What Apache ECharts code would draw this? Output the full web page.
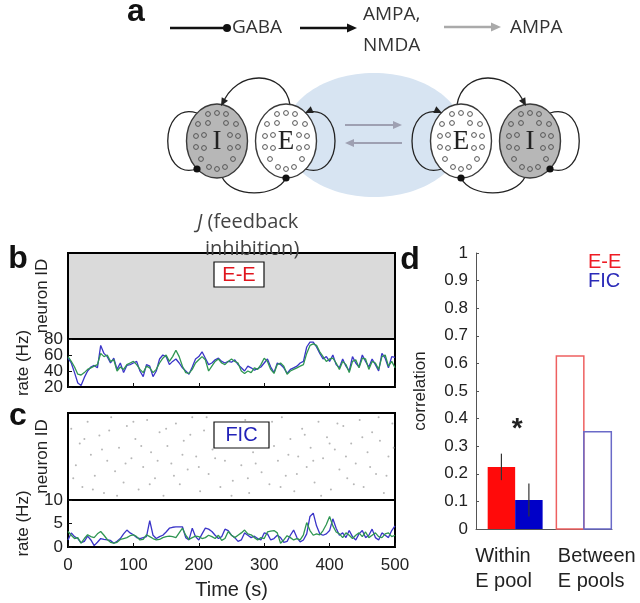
<!DOCTYPE html>
<html><head><meta charset="utf-8">
<script src="https://cdn.jsdelivr.net/npm/echarts@6/dist/echarts.min.js"></script>
<style>html,body{margin:0;padding:0;background:#fff}#c{width:640px;height:603px}</style>
</head><body><div id="c"></div><script>
// ---------------- data ----------------
const timeS = [0,5,10,15,20,25,30,35,40,45,50,55,60,65,70,75,80,85,90,95,100,105,110,115,120,125,130,135,140,145,150,155,160,165,170,175,180,185,190,195,200,205,210,215,220,225,230,235,240,245,250,255,260,265,270,275,280,285,290,295,300,305,310,315,320,325,330,335,340,345,350,355,360,365,370,375,380,385,390,395,400,405,410,415,420,425,430,435,440,445,450,455,460,465,470,475,480,485,490,495,500];
const timeTicks = [0,100,200,300,400,500];

// panel b : E-E rates (Hz)
const rateEEBlue = [56,50,38,25,22,32,40,45,47,44, 72,62,58,50,56,42,50,38,47,48, 50,52,40,33,48,46,33,40,55,60, 58,48,52,55,50,44,40,36,45,55, 58,64,56,48,50,54,56,52,50,52, 51,54,48,44,40,46,44,41,43,45, 50,55,45,38,50,48,44,37,42,44, 46,50,52,70,76,76,70,62,55,58, 52,60,48,44,55,46,40,58,50,45, 60,52,45,55,48,40,62,56,44,58, 57];
const rateEEGreen = [58,52,45,36,35,38,42,44,46,48, 62,58,60,52,54,40,45,42,48,50, 52,48,42,38,46,44,38,42,50,56, 60,52,58,66,58,46,38,37,42,50, 54,58,54,40,46,52,55,50,48,52, 55,52,50,40,37,40,38,44,42,48, 56,52,42,37,48,50,46,36,40,42, 44,46,48,62,72,74,72,64,58,52, 55,56,50,42,52,48,38,52,54,44, 56,55,42,52,50,42,58,60,46,52, 44];
const rateEETicks = [20,40,60,80];
// panel c : FIC rates (Hz)
const rateFICBlue = [1.5,3.0,2.2,1.8,0.9,1.2,2.3,1.5,0.3,1.0, 1.8,1.6,1.5,1.4,0.8,1.2,1.8,2.8,3.6,3.0, 2.6,2.0,1.8,2.0,2.2,5.6,2.5,1.8,2.2,2.5, 3.2,4.0,4.2,4.3,4.3,4.3,2.0,1.5,4.0,2.2, 1.5,2.8,4.0,3.8,3.3,2.5,1.8,2.2,3.8,3.5, 2.5,2.0,1.2,1.5,3.0,2.5,2.0,2.3,1.8,1.5, 3.0,2.8,1.5,1.8,2.5,2.0,1.0,1.2,2.5,3.6, 2.0,1.1,1.5,2.8,6.5,7.2,4.5,2.8,2.5,2.8, 3.5,6.0,4.0,2.5,3.0,2.0,3.5,2.2,1.5,2.8, 3.5,2.0,2.5,3.8,2.0,1.5,3.0,2.5,2.0,3.5, 4.5];
const rateFICGreen = [3.3,2.5,1.8,2.0,0.8,1.8,2.6,2.2,2.0,2.8, 3.3,2.5,1.6,1.0,0.8,1.0,1.6,1.8,2.0,2.4, 2.6,2.2,1.5,1.6,2.6,2.2,1.8,1.5,1.6,2.0, 2.2,2.3,2.2,2.0,3.0,4.0,2.5,1.6,2.0,2.3, 2.2,1.8,2.0,2.5,2.2,1.8,2.5,1.4,1.8,3.3, 2.5,2.0,2.5,3.0,3.6,2.8,2.6,2.0,1.5,2.0, 1.8,3.2,3.4,3.5,3.0,0.8,1.5,2.4,2.0,1.5, 1.8,1.5,2.6,5.2,3.5,2.5,2.8,2.6,3.5,4.8, 6.5,4.5,3.2,2.8,2.0,3.0,2.5,1.8,2.5,3.0, 2.2,3.2,2.0,2.5,3.0,2.2,2.0,2.8,3.0,2.2, 2.5];
const rateFICTicks = [0,5,10];
// panel c : sparse spike raster [time s, neuron id %]
const spikesFIC = [[5,82],[12,40],[18,65],[22,15],[30,90],[35,52],[41,28],[48,74],[55,8],[60,45],[66,95],[72,33],[78,60],[85,20],[90,85],[97,48],[103,70],[108,12],[115,38],[121,92],[127,55],[133,25],[140,78],[146,5],[152,62],[158,42],[165,88],[171,18],[177,68],[183,35],[190,95],[196,50],[202,10],[208,80],[215,30],[221,58],[227,72],[233,15],[240,45],[246,88],[252,22],[258,65],[265,40],[271,92],[277,8],[283,55],[290,75],[296,32],[302,85],[308,18],[315,62],[321,45],[327,95],[333,28],[340,70],[346,10],[352,50],[358,82],[365,38],[371,60],[377,20],[383,90],[390,48],[396,72],[402,12],[408,58],[415,35],[421,85],[427,25],[433,65],[440,42],[446,92],[452,15],[458,55],[465,78],[471,30],[477,68],[483,8],[490,50],[496,88],[8,25],[25,70],[38,12],[52,58],[63,80],[75,5],[88,42],[100,90],[112,62],[125,18],[137,45],[150,82],[162,28],[175,52],[187,75],[200,38],[212,95],[225,48],[237,68],[250,5],[262,80],[275,25],[287,42],[300,62],[312,90],[325,15],[337,52],[350,30],[362,75],[375,45],[387,5],[400,65],[412,88],[425,50],[437,18],[450,72],[462,38],[475,95],[487,28],[498,60]];

// panel d : correlations
const categories = ['Within\nE pool', 'Between\nE pools'];
const corrEE = [0.225, 0.627];
const corrFIC = [0.105, 0.352];
const semEE = [0.048, 0];
const semFIC = [0.060, 0];
const corrTicks = [0,0.1,0.2,0.3,0.4,0.5,0.6,0.7,0.8,0.9,1];

// ---------------- style ----------------
const SANS = "'Liberation Sans', Arial, sans-serif";
const HUM = "'Open Sans', 'Liberation Sans', sans-serif";
const BLUE = '#3a34c8', GREEN = '#2f9652';
const barFilled = [true, false];
const labelDx = [-40, -26];

const chart = echarts.init(document.getElementById('c'));

// ---------------- schematic (panel a) ----------------
const G = [];
function ell(cx, cy, rx, ry, fill, stroke, lw, z) {
  G.push({type:'ellipse', z: z||1, shape:{cx, cy, rx, ry}, style:{fill, stroke: stroke||null, lineWidth: lw||0}, silent:true});
}
function bez(x1,y1,a,b,c,d,x2,y2,color,lw) {
  G.push({type:'bezierCurve', z:1, shape:{x1,y1,cpx1:a,cpy1:b,cpx2:c,cpy2:d,x2,y2}, style:{stroke:color, lineWidth:lw, fill:null}, silent:true});
}
function seg(x1,y1,x2,y2,color,lw) {
  G.push({type:'line', z:3, shape:{x1,y1,x2,y2}, style:{stroke:color, lineWidth:lw}, silent:true});
}
function head(tx, ty, fx, fy, size, color) {
  let dx = tx-fx, dy = ty-fy; const L = Math.hypot(dx,dy); dx/=L; dy/=L;
  const bx = tx-dx*size, by = ty-dy*size, px = -dy*size*0.45, py = dx*size*0.45;
  G.push({type:'polygon', z:4, shape:{points:[[tx,ty],[bx+px,by+py],[bx-px,by-py]]}, style:{fill:color}, silent:true});
}
function dot(cx, cy, r, color) {
  G.push({type:'circle', z:4, shape:{cx, cy, r}, style:{fill:color}, silent:true});
}
function txt(x, y, text, opts, z) {
  G.push({type:'text', z: z||5, silent:true, style:Object.assign({x, y, text, fill:'#333', fontSize:19, fontFamily:HUM, textAlign:'left', textVerticalAlign:'middle'}, opts||{})});
}
const inner = [[-9,-27],[0,-28],[9,-27],[-19,-17],[-9,-18],[9,-18],[19,-17],[-21,-5],[-13,-6],[13,-6],[21,-5],[-21,6],[-13,7],[13,7],[21,6],[-16,18],[16,18],[-8,26],[0,28],[8,26]];
function pool(cx, cy, letter, fill) {
  ell(cx, cy, 30.5, 37, fill, '#3a3a3a', 1.4, 2);
  inner.forEach(p => G.push({type:'circle', z:3, shape:{cx:cx+p[0], cy:cy+p[1], r:2.4}, style:{fill:null, stroke:'#555', lineWidth:1}, silent:true}));
  G.push({type:'text', z:3, silent:true, style:{x:cx, y:cy+1, text:letter, fill:'#222', fontSize:27, fontFamily:"'Liberation Serif', serif", textAlign:'center', textVerticalAlign:'middle'}});
}

// blue background ellipse
ell(374, 135, 90, 62, '#d7e4f2', null, 0, 0);

function pair(mirror) {
  const m = x => mirror ? 747 - x : x;
  bez(m(290),105, m(285),70, m(236),68, m(222),105, '#222', 1.3);        // E -> I
  bez(m(197),113, m(158),100, m(158),182, m(197),169, '#222', 1.3);      // I self
  bez(m(305),113, m(345),100, m(345),182, m(305),169, '#222', 1.3);      // E self
  bez(m(222),177, m(232),198, m(276),198, m(286),178, '#222', 1.3);      // I -> E
  pool(m(217), 141, 'I', '#b7b7b7');
  pool(m(286), 141, 'E', '#ffffff');
  head(m(221),106, m(231),88, 8, '#222');
  head(m(305),113, m(320),106, 8, '#222');
  dot(m(197),169, 3.6, '#111');
  dot(m(286),178, 3.6, '#111');
}
pair(false); pair(true);

// between-pool AMPA arrows
seg(345,125,395,125,'#9ea0b2',2); head(402,125,390,125,9,'#9ea0b2');
seg(352,143,402,143,'#9ea0b2',2); head(345,143,357,143,9,'#9ea0b2');

// key row
seg(170,28,224,28,'#111',2.5); dot(227,28,4,'#111');
txt(232,28,'GABA');
seg(300,28,348,28,'#111',2.5); head(357,28,345,28,10,'#111');
txt(363,15,'AMPA,'); txt(363,46,'NMDA');
seg(444,27,492,27,'#aaaaaa',2.5); head(501,27,489,27,10,'#aaaaaa');
txt(510,28,'AMPA');
G.push({type:'text', z:5, silent:true, style:{x:197, y:222, text:'{i|J} (feedback', fill:'#444', fontSize:20, fontFamily:HUM, textAlign:'left', textVerticalAlign:'middle', rich:{i:{fontStyle:'italic', fontSize:20, fontFamily:HUM, fill:'#444'}}}});
txt(205,249,'inhibition)', {fill:'#444', fontSize:20});

// panel letters
[['a',136,12],['b',18,259],['c',18,416],['d',410,260]].forEach(l => txt(l[1], l[2], l[0], {fontSize:32, fontWeight:'bold', fontFamily:SANS, fill:'#111', textAlign:'center'}));

// raster labels (boxed)
G.push({type:'rect', z:20, shape:{x:214, y:262, width:50, height:25}, style:{fill:'#fff', stroke:'#111', lineWidth:1.2}, silent:true});
txt(239,275,'E-E',{fontSize:20, fontFamily:SANS, fill:'#e0151e', textAlign:'center'}, 21);
G.push({type:'rect', z:20, shape:{x:214, y:422, width:55, height:26}, style:{fill:'#fff', stroke:'#111', lineWidth:1.2}, silent:true});
txt(241.5,435.5,'FIC',{fontSize:20, fontFamily:SANS, fill:'#2222b8', textAlign:'center'}, 21);

// panel d legend
txt(588,262,'E-E',{fontSize:20, fontFamily:SANS, fill:'#ee1c24'});
txt(588,281,'FIC',{fontSize:20, fontFamily:SANS, fill:'#2a2ab8'});

// ---------------- axes helpers ----------------
const axisTxt = {fontSize:17, fontFamily:SANS, color:'#222'};
function tAxis(i, showLabels) {
  return {type:'value', gridIndex:i, min:0, max:500, interval:100,
    axisLine:{show:false}, splitLine:{show:false},
    axisTick:{show: i===1 || i===3, inside:true, length:4, lineStyle:{color:'#111'}},
    axisLabel: showLabels ? Object.assign({show:true, margin:10, showMinLabel:true, showMaxLabel:true, formatter: v => timeTicks.includes(v) ? String(v) : ''}, axisTxt) : {show:false},
    name: showLabels ? 'Time (s)' : '', nameLocation:'middle', nameGap:33,
    nameTextStyle:{fontSize:20, fontFamily:SANS, color:'#222'}};
}
function yName(name, gap) {
  return {name, nameLocation:'middle', nameGap:gap, nameTextStyle:{fontSize:17, fontFamily:SANS, color:'#222'}};
}

function lineS(xi, data, color) {
  return {type:'line', xAxisIndex:xi, yAxisIndex:xi, data: timeS.map((t,k)=>[t, data[k]]),
    showSymbol:false, lineStyle:{color, width:1.3}, itemStyle:{color}, silent:true, z:3};
}
// tick labels drawn through the axis scale (tight spacing in the original)
function tickLabelSeries(xi, ticks) {
  return {type:'custom', xAxisIndex:xi, yAxisIndex:xi, silent:true, clip:false, z:6,
    data: ticks.map(t => [0, t]),
    renderItem(params, api) {
      const p = api.coord([api.value(0), api.value(1)]);
      return {type:'text', style:{x:p[0]-5, y:p[1], text:String(api.value(1)), fontSize:17, fontFamily:SANS, fill:'#222',
        textAlign:'right', textVerticalAlign:'middle', align:'right', verticalAlign:'middle'}};
    }};
}

function barSeries(vals, sems, side, fillColor, hollowColor) {
  return {type:'custom', xAxisIndex:4, yAxisIndex:4, silent:true, z:3,
    data: vals.map((v,i)=>[i+1, v, sems[i], i]),
    renderItem(params, api) {
      const x = api.value(0), v = api.value(1), s = api.value(2), idx = api.value(3);
      const xa = side < 0 ? x - 0.4 : x, xb = side < 0 ? x : x + 0.4;
      const p0 = api.coord([xa, v]), p1 = api.coord([xb, 0]);
      const children = [{type:'rect', shape:{x:p0[0], y:p0[1], width:p1[0]-p0[0], height:p1[1]-p0[1]},
        style: barFilled[idx] ? {fill:fillColor} : {fill:null, stroke:hollowColor, lineWidth:1.5}}];
      if (s > 0) {
        const xc = (xa + xb) / 2, e0 = api.coord([xc, v - s]), e1 = api.coord([xc, v + s]);
        children.push({type:'line', shape:{x1:e0[0], y1:e0[1], x2:e1[0], y2:e1[1]}, style:{stroke:'#333', lineWidth:1.2}});
      }
      return {type:'group', children};
    }};
}

const option = {
  animation:false,
  backgroundColor:'#fff',
  grid:[
    {left:68, top:253, width:327, height:86, show:true, backgroundColor:'#dadada', borderColor:'#000', borderWidth:2},
    {left:68, top:339, width:327, height:48, show:true, backgroundColor:'#fff', borderColor:'#000', borderWidth:2},
    {left:68, top:413, width:327, height:87, show:true, backgroundColor:'#fff', borderColor:'#000', borderWidth:2},
    {left:68, top:500, width:327, height:47, show:true, backgroundColor:'#fff', borderColor:'#000', borderWidth:2},
    {left:476, top:253, width:136, height:276}
  ],
  xAxis:[ tAxis(0,false), tAxis(1,false), tAxis(2,false), tAxis(3,true),
    {type:'value', gridIndex:4, min:0.43, max:2.41, axisLine:{show:true, lineStyle:{color:'#555', width:1}}, axisTick:{show:false}, axisLabel:{show:false}, splitLine:{show:false}} ],
  yAxis:[
    Object.assign({type:'value', gridIndex:0, min:0, max:100, axisLine:{show:false}, axisTick:{show:false}, axisLabel:{show:false}, splitLine:{show:false}}, yName('neuron ID', 17)),
    Object.assign({type:'value', gridIndex:1, min:20, max:80, interval:20, axisLine:{show:false}, axisTick:{show:true, inside:true, length:4, lineStyle:{color:'#111'}}, axisLabel:{show:false}, splitLine:{show:false}}, yName('rate (Hz)', 36)),
    Object.assign({type:'value', gridIndex:2, min:0, max:100, axisLine:{show:false}, axisTick:{show:false}, axisLabel:{show:false}, splitLine:{show:false}}, yName('neuron ID', 17)),
    Object.assign({type:'value', gridIndex:3, min:0, max:10, interval:5, axisLine:{show:false}, axisTick:{show:true, inside:true, length:4, lineStyle:{color:'#111'}}, axisLabel:{show:false}, splitLine:{show:false}}, yName('rate (Hz)', 36)),
    Object.assign({type:'value', gridIndex:4, min:0, max:1, interval:0.1, axisLine:{show:true, lineStyle:{color:'#555', width:1}}, axisTick:{show:true, inside:true, length:3, lineStyle:{color:'#555'}},
      axisLabel:Object.assign({margin:8, showMinLabel:true, showMaxLabel:true, formatter: v => { const t = corrTicks.find(c => Math.abs(c - v) < 1e-6); return t === undefined ? '' : String(t); }}, axisTxt), splitLine:{show:false}}, yName('correlation', 47))
  ],
  series:[
    {type:'scatter', xAxisIndex:2, yAxisIndex:2, data:spikesFIC, symbolSize:2, itemStyle:{color:'#a4a4a4'}, silent:true, z:2},
    lineS(1, rateEEBlue, BLUE), lineS(1, rateEEGreen, GREEN),
    lineS(3, rateFICBlue, BLUE), lineS(3, rateFICGreen, GREEN),
    tickLabelSeries(1, rateEETicks), tickLabelSeries(3, rateFICTicks),
    barSeries(corrEE, semEE, -1, '#ff0a0a', '#ee6060'),
    barSeries(corrFIC, semFIC, 1, '#0000c8', '#6a6ac8'),
    {type:'custom', xAxisIndex:4, yAxisIndex:4, silent:true, data: categories.map((c,i)=>[i+1, 0]),
      renderItem(params, api) {
        const i = params.dataIndex, p = api.coord([api.value(0), 0]);
        return {type:'text', style:{x:p[0]+labelDx[i], y:p[1]+15, text:categories[i], fontSize:20, fontFamily:SANS, fill:'#222', lineHeight:25, textAlign:'left', textVerticalAlign:'top', align:'left', verticalAlign:'top'}};
      }},
    {type:'custom', xAxisIndex:4, yAxisIndex:4, silent:true, data:[[1.03, 0.36]],
      renderItem(params, api) {
        const p = api.coord([api.value(0), api.value(1)]);
        return {type:'text', style:{x:p[0], y:p[1], text:'*', fontSize:28, fontWeight:'bold', fontFamily:SANS, fill:'#222', textAlign:'center', textVerticalAlign:'middle', align:'center', verticalAlign:'middle'}};
      }}
  ],
  graphic:{elements:G}
};
chart.setOption(option);
</script></body></html>
